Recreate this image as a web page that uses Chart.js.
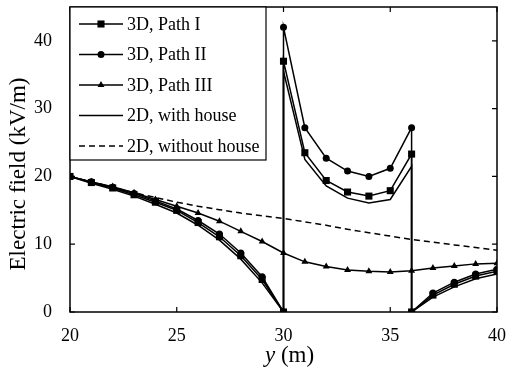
<!DOCTYPE html>
<html lang="en">
<head>
    <meta charset="UTF-8">
    <title>Electric field along y</title>
    <script src="https://cdn.jsdelivr.net/npm/chart.js"></script>
    <style>
        html, body { margin: 0; padding: 0; background: #fff; }
        #wrap { width: 507px; height: 374px; }
    </style>
</head>
<body>
    <div id="wrap"><canvas id="fieldChart" width="507" height="374"></canvas></div>
    <script>
        // x positions (m); jumps at 30 and 36 repeat the x value
        const yJump = [20, 21, 22, 23, 24, 25, 26, 27, 28, 29, 30,
                       30, 31, 32, 33, 34, 35, 36,
                       36, 37, 38, 39, 40];
        const yAll = [20, 21, 22, 23, 24, 25, 26, 27, 28, 29, 30,
                      31, 32, 33, 34, 35, 36, 37, 38, 39, 40];

        // electric field values (kV/m)
        const path1 = [20, 19.1, 18.3, 17.3, 16.2, 15.0, 13.2, 11.1, 8.3, 4.8, 0,
                       37.0, 23.5, 19.4, 17.7, 17.1, 17.9, 23.3,
                       0, 2.5, 4.1, 5.3, 6.0];
        const path2 = [20, 19.2, 18.4, 17.5, 16.4, 15.2, 13.5, 11.5, 8.7, 5.2, 0,
                       42.0, 27.2, 22.7, 20.8, 20.0, 21.2, 27.2,
                       0, 2.8, 4.4, 5.6, 6.3];
        const withHouse = [20, 19.0, 18.1, 17.1, 15.9, 14.6, 12.8, 10.6, 7.8, 4.3, 0,
                           35.5, 22.5, 18.6, 16.8, 16.1, 16.6, 21.5,
                           0, 2.2, 3.7, 4.9, 5.6];
        const path3 = [20, 19.2, 18.5, 17.6, 16.6, 15.6, 14.6, 13.4, 11.9, 10.4, 8.7,
                       7.4, 6.7, 6.2, 6.0, 5.9, 6.1, 6.5, 6.8, 7.1, 7.2];
        const withoutHouse = [20, 19.2, 18.4, 17.6, 16.9, 16.2, 15.6, 15.1, 14.6, 14.2, 13.8,
                              13.3, 12.8, 12.2, 11.7, 11.2, 10.7, 10.3, 9.9, 9.5, 9.1];

        const xTicks = [20, 25, 30, 35, 40];
        const yTicks = [0, 10, 20, 30, 40];

        const serif = "'Liberation Serif', 'Times New Roman', serif";

        function pts(xs, ys) {
            return xs.map((x, i) => ({ x: x, y: ys[i] }));
        }

        function drawMarker(ctx, style, r, x, y) {
            ctx.fillStyle = '#000';
            ctx.beginPath();
            if (style === 'rect') {
                const s = r * Math.SQRT1_2;
                ctx.rect(x - s, y - s, 2 * s, 2 * s);
            } else if (style === 'circle') {
                ctx.arc(x, y, r, 0, Math.PI * 2);
            } else if (style === 'triangle') {
                const c = Math.cos(Math.PI / 3), s = Math.sin(Math.PI * 2 / 3);
                ctx.moveTo(x, y - r);
                ctx.lineTo(x + r * s, y + r * c);
                ctx.lineTo(x - r * s, y + r * c);
                ctx.closePath();
            } else {
                return;
            }
            ctx.fill();
        }

        // no extra padding from tick labels, the area is fixed by layout
        function noPad(scale) {
            scale.paddingTop = 0;
            scale.paddingBottom = 0;
            scale.paddingLeft = 0;
            scale.paddingRight = 0;
        }

        // frame, inward ticks, legend box and axis titles
        const decorPlugin = {
            id: 'decor',
            afterDraw(chart) {
                const ctx = chart.ctx;
                const a = chart.chartArea;
                const xs = chart.scales.x, ys = chart.scales.y;
                ctx.save();
                ctx.strokeStyle = '#000';
                ctx.lineWidth = 1.5;
                ctx.strokeRect(a.left, a.top, a.right - a.left, a.bottom - a.top);
                ctx.lineWidth = 1.2;
                ctx.beginPath();
                xTicks.forEach(v => {
                    const px = xs.getPixelForValue(v);
                    ctx.moveTo(px, a.bottom); ctx.lineTo(px, a.bottom - 5);
                    ctx.moveTo(px, a.top); ctx.lineTo(px, a.top + 5);
                });
                yTicks.forEach(v => {
                    const py = ys.getPixelForValue(v);
                    ctx.moveTo(a.left, py); ctx.lineTo(a.left + 5, py);
                    ctx.moveTo(a.right, py); ctx.lineTo(a.right - 5, py);
                });
                ctx.stroke();

                // legend
                const bx = a.left, by = a.top, bw = 196, bh = 153;
                ctx.fillStyle = '#fff';
                ctx.fillRect(bx, by, bw, bh);
                ctx.lineWidth = 1.2;
                ctx.strokeRect(bx, by, bw, bh);
                chart.data.datasets.forEach((ds, i) => {
                    const ry = by + 17 + i * 30.5;
                    ctx.strokeStyle = '#000';
                    ctx.lineWidth = ds.borderWidth;
                    ctx.setLineDash(ds.borderDash || []);
                    ctx.beginPath();
                    ctx.moveTo(bx + 9, ry); ctx.lineTo(bx + 53, ry);
                    ctx.stroke();
                    ctx.setLineDash([]);
                    if (ds.pointRadius > 0) drawMarker(ctx, ds.pointStyle, ds.pointRadius, bx + 31, ry);
                    ctx.fillStyle = '#000';
                    ctx.font = '18px ' + serif;
                    ctx.textAlign = 'left';
                    ctx.textBaseline = 'middle';
                    ctx.fillText(ds.label, bx + 57, ry + 1);
                });

                // x axis title: italic y
                ctx.fillStyle = '#000';
                ctx.font = 'italic 23px ' + serif;
                const w1 = ctx.measureText('y').width;
                ctx.font = '23px ' + serif;
                const w2 = ctx.measureText(' (m)').width;
                const cx = (a.left + a.right) / 2 + 6;
                const tx = cx - (w1 + w2) / 2;
                ctx.textBaseline = 'middle';
                ctx.textAlign = 'left';
                ctx.font = 'italic 23px ' + serif;
                ctx.fillText('y', tx, 356);
                ctx.font = '23px ' + serif;
                ctx.fillText(' (m)', tx + w1, 356);

                // y axis title
                ctx.translate(19, 174);
                ctx.rotate(-Math.PI / 2);
                ctx.textAlign = 'center';
                ctx.font = '23px ' + serif;
                ctx.fillText('Electric field (kV/m)', 0, 0);
                ctx.restore();
            }
        };

        const lineBase = {
            borderColor: '#000',
            backgroundColor: '#000',
            pointBackgroundColor: '#000',
            pointBorderColor: '#000',
            borderWidth: 1.5,
            pointBorderWidth: 0,
            tension: 0,
            fill: false
        };

        const ctx = document.getElementById('fieldChart').getContext('2d');
        new Chart(ctx, {
            type: 'line',
            data: {
                datasets: [
                    Object.assign({}, lineBase, { label: '3D, Path I', data: pts(yJump, path1), pointStyle: 'rect', pointRadius: 5 }),
                    Object.assign({}, lineBase, { label: '3D, Path II', data: pts(yJump, path2), pointStyle: 'circle', pointRadius: 3.5 }),
                    Object.assign({}, lineBase, { label: '3D, Path III', data: pts(yAll, path3), pointStyle: 'triangle', pointRadius: 4 }),
                    Object.assign({}, lineBase, { label: '2D, with house', data: pts(yJump, withHouse), pointRadius: 0 }),
                    Object.assign({}, lineBase, { label: '2D, without house', data: pts(yAll, withoutHouse), pointRadius: 0, borderDash: [6, 4] })
                ]
            },
            options: {
                responsive: false,
                animation: false,
                layout: { padding: { top: 7, right: 10, left: 0, bottom: 0 } },
                plugins: {
                    legend: { display: false },
                    tooltip: { enabled: false }
                },
                scales: {
                    x: {
                        type: 'linear',
                        min: 20,
                        max: 40,
                        afterBuildTicks: axis => { axis.ticks = xTicks.map(v => ({ value: v })); },
                        afterFit: scale => { scale.height = 62; noPad(scale); },
                        grid: { display: false, drawTicks: false },
                        border: { display: false },
                        ticks: { color: '#000', font: { family: serif, size: 18 }, padding: 13, maxRotation: 0 }
                    },
                    y: {
                        type: 'linear',
                        min: 0,
                        max: 45,
                        afterBuildTicks: axis => { axis.ticks = yTicks.map(v => ({ value: v })); },
                        afterFit: scale => { scale.width = 70; noPad(scale); },
                        grid: { display: false, drawTicks: false },
                        border: { display: false },
                        ticks: { color: '#000', font: { family: serif, size: 18 }, padding: 18 }
                    }
                }
            },
            plugins: [decorPlugin]
        });
    </script>
</body>
</html>
